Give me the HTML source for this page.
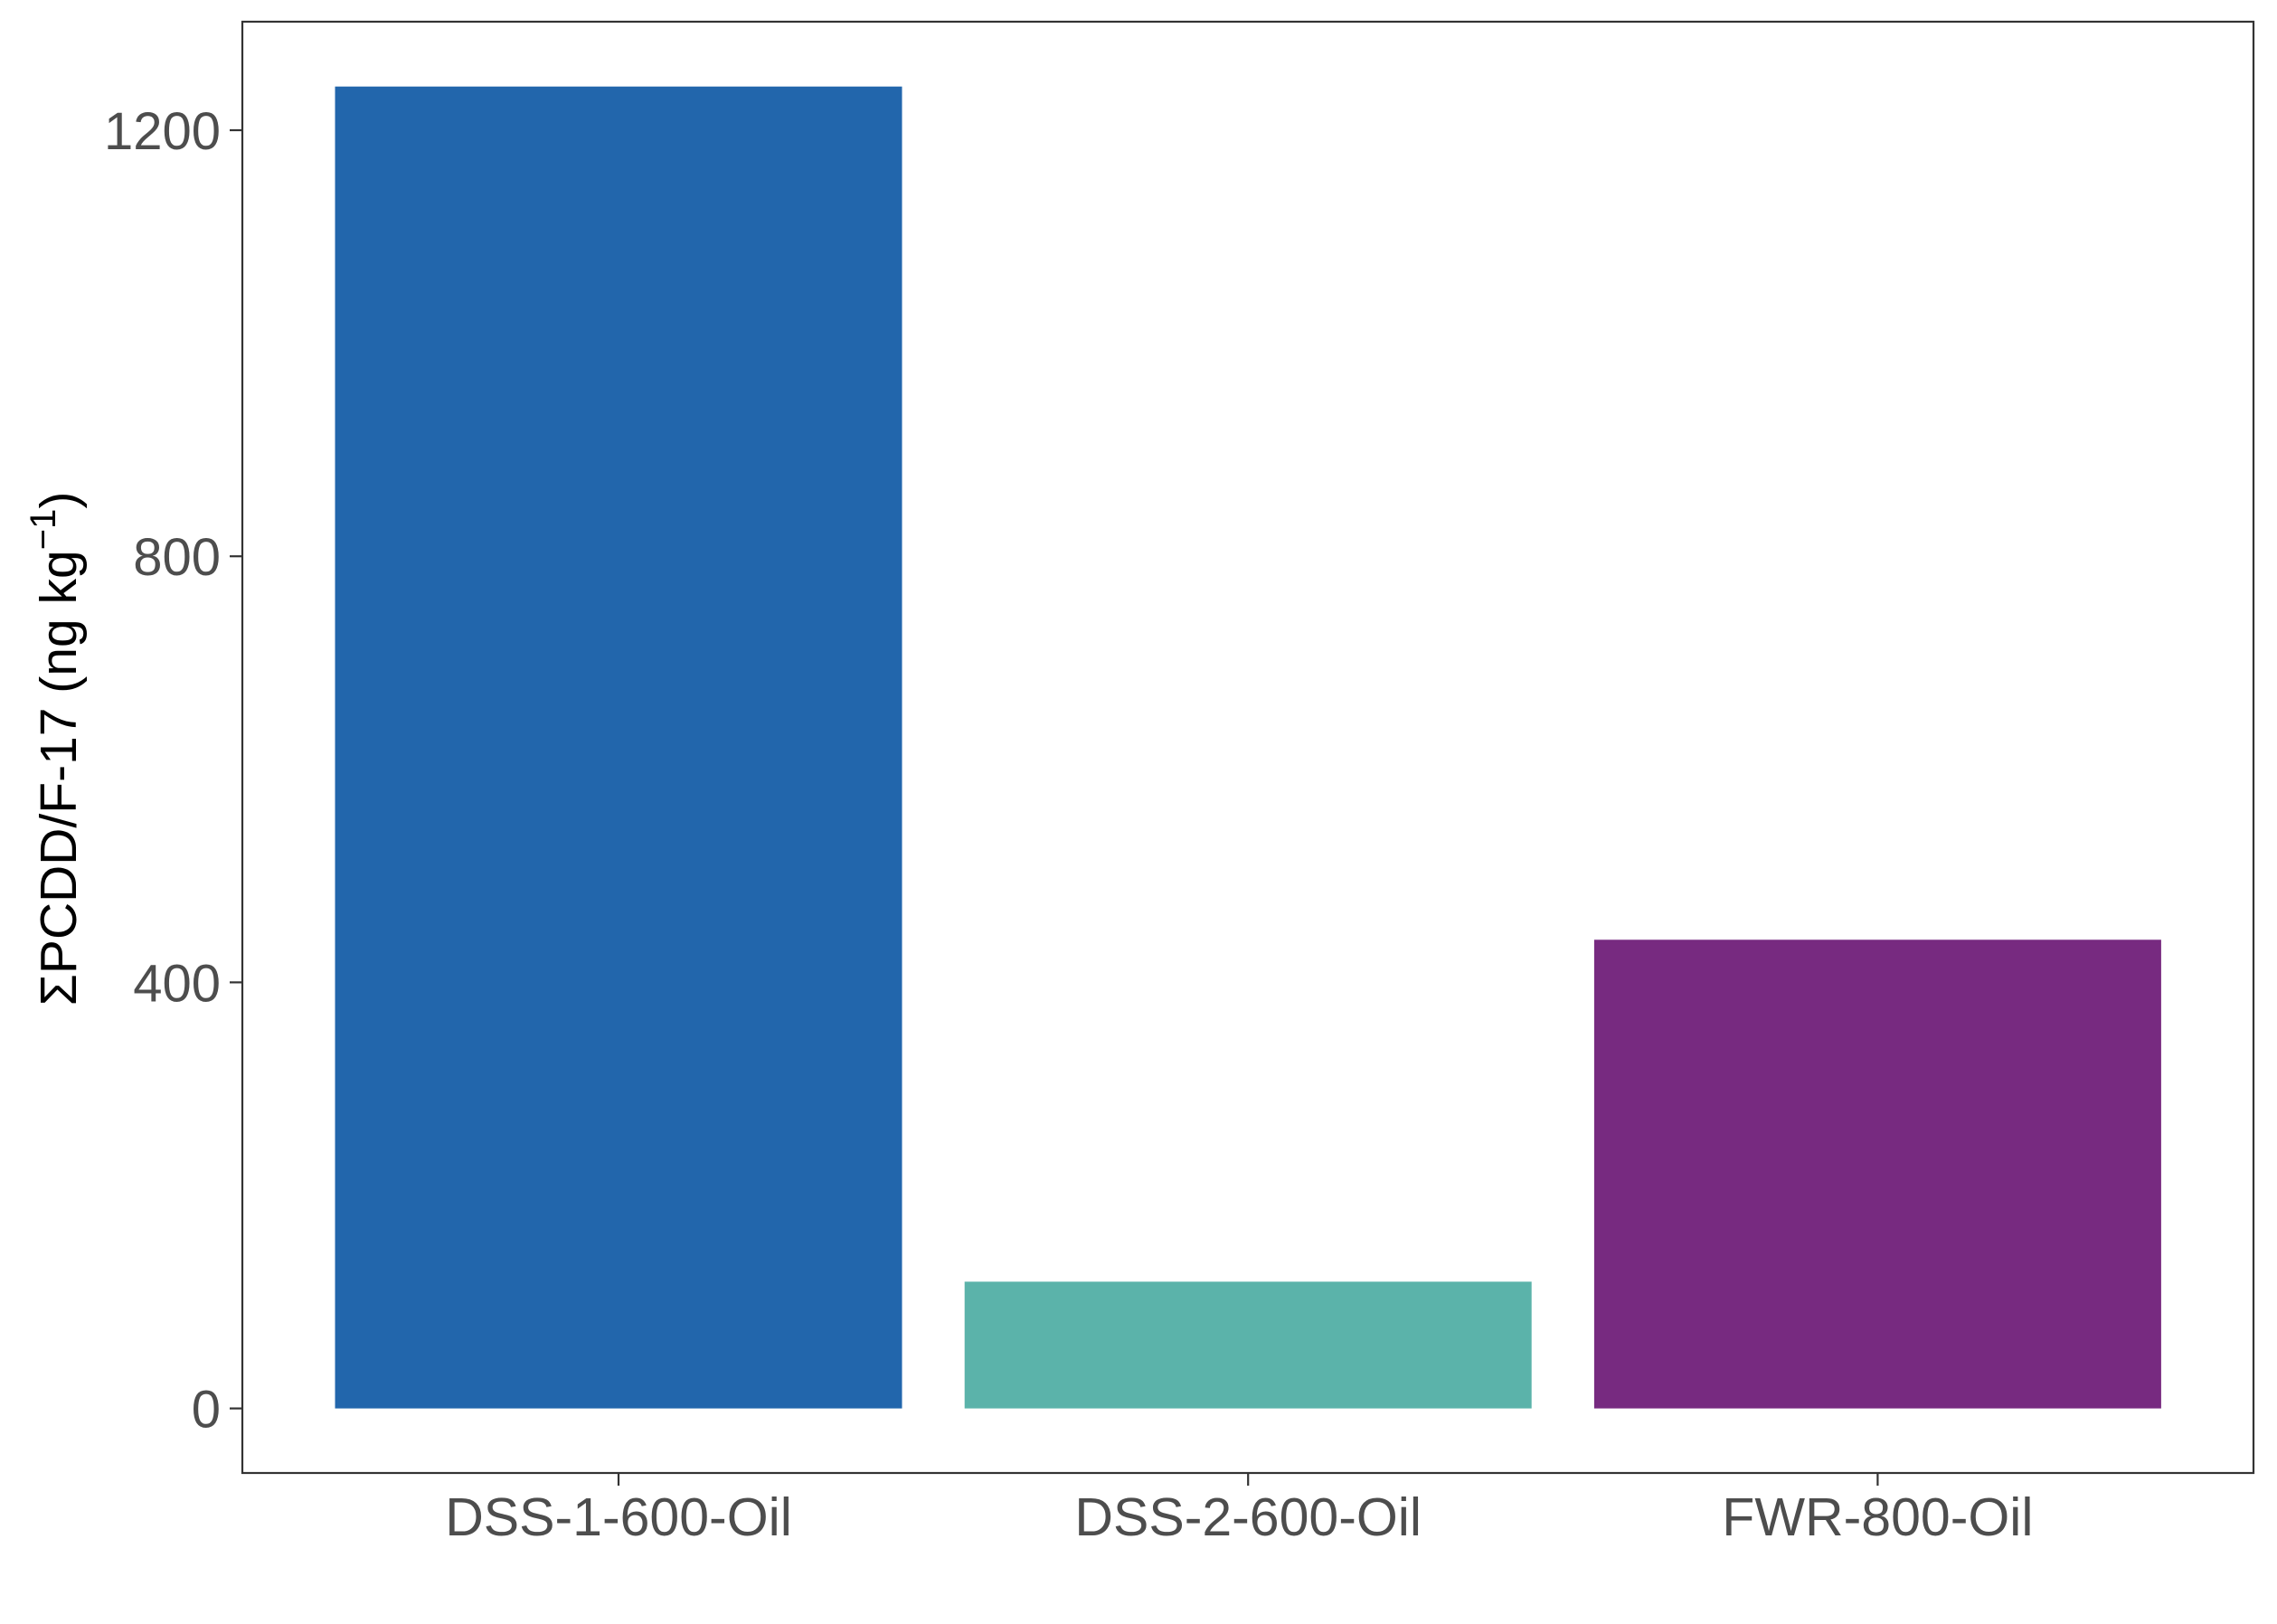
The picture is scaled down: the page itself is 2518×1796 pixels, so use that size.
<!DOCTYPE html>
<html><head><meta charset="utf-8"><style>
html,body{margin:0;padding:0;background:#fff;}
svg{display:block;font-family:"Liberation Sans",Arial,sans-serif;}
</style></head><body>
<svg id="chart" width="2518" height="1796" viewBox="0 0 2518 1796" xmlns="http://www.w3.org/2000/svg">
<rect width="2518" height="1796" fill="#fff"/>
<g id="marks"></g>
<rect x="268" y="24" width="2224" height="1605" fill="none" stroke="#333" stroke-width="2.2"/>
<g id="yaxis"></g>
<g id="xaxis"></g>
<text transform="translate(84,828) rotate(-90)" text-anchor="middle" font-size="57" fill="#000">ΣPCDD/F-17 (ng kg<tspan dy="-23" font-size="40">−1</tspan><tspan dy="23">)</tspan></text>
</svg>
<script>
const categories = ["DSS-1-600-Oil", "DSS-2-600-Oil", "FWR-800-Oil"];
const values = [1241, 119, 440];
const colors = ["#2266AC", "#5BB3AA", "#772A80"];
const yTicks = [0, 400, 800, 1200];

const NS = "http://www.w3.org/2000/svg";
const y0 = 1557.6, yPerUnit = (1557.6 - 144) / 1200;
const y = v => y0 - v * yPerUnit;
const xCenter = i => 684 + i * 696.2;
const barW = 627;

const marks = document.getElementById('marks');
values.forEach((v, i) => {
  const r = document.createElementNS(NS, 'rect');
  r.setAttribute('x', xCenter(i) - barW / 2);
  r.setAttribute('y', y(v));
  r.setAttribute('width', barW);
  r.setAttribute('height', y(0) - y(v));
  r.setAttribute('fill', colors[i]);
  
  
  marks.appendChild(r);
});

const ya = document.getElementById('yaxis');
yTicks.forEach(t => {
  const l = document.createElementNS(NS, 'line');
  l.setAttribute('x1', 254); l.setAttribute('x2', 268);
  l.setAttribute('y1', y(t)); l.setAttribute('y2', y(t));
  l.setAttribute('stroke', '#333'); l.setAttribute('stroke-width', '2.2');
  
  
  ya.appendChild(l);
  const tx = document.createElementNS(NS, 'text');
  tx.setAttribute('x', 244); tx.setAttribute('y', y(t) + 21);
  tx.setAttribute('text-anchor', 'end'); tx.setAttribute('font-size', '58');
  tx.setAttribute('fill', '#4D4D4D');
  tx.textContent = t;
  
  
  ya.appendChild(tx);
});

const xa = document.getElementById('xaxis');
categories.forEach((c, i) => {
  const l = document.createElementNS(NS, 'line');
  l.setAttribute('x1', xCenter(i)); l.setAttribute('x2', xCenter(i));
  l.setAttribute('y1', 1629); l.setAttribute('y2', 1643);
  l.setAttribute('stroke', '#333'); l.setAttribute('stroke-width', '2.2');
  
  
  xa.appendChild(l);
  const tx = document.createElementNS(NS, 'text');
  tx.setAttribute('x', xCenter(i)); tx.setAttribute('y', 1698);
  tx.setAttribute('text-anchor', 'middle'); tx.setAttribute('font-size', '59');
  tx.setAttribute('fill', '#4D4D4D');
  tx.textContent = c;
  
  
  xa.appendChild(tx);
});
</script>
</body></html>
